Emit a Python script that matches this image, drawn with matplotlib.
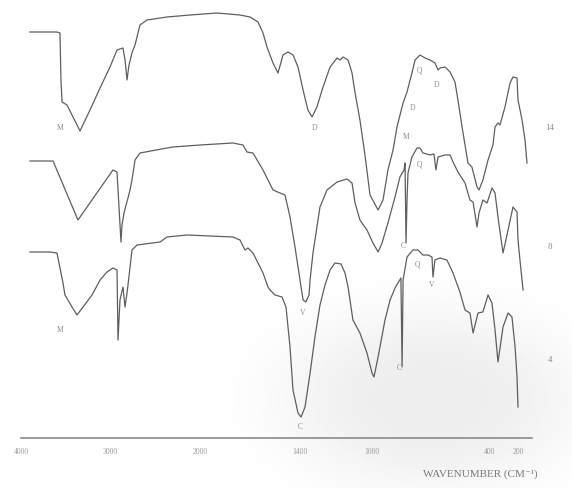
import numpy as np
import matplotlib.pyplot as plt

# IR spectra of three samples (14, 8, 4).
# y is an absorbance-like depth (0 = top of chart, grows downward).
wn_14 = [3899, 3596, 3562, 3551, 3539, 3483, 3427, 3337, 3225, 3112, 3000, 2922, 2856, 2833,
         2811, 2789, 2756, 2744, 2722, 2667, 2589, 2367, 2111, 1898, 1760, 1700, 1652, 1622,
         1598, 1562, 1532, 1502, 1472, 1442, 1412, 1383, 1356, 1333, 1306, 1272, 1233, 1194,
         1178, 1161, 1133, 1111, 1094, 1067, 1039, 1011, 969, 944, 919, 893, 873, 842, 822,
         797, 781, 756, 730, 705, 680, 664, 654, 629, 603, 578, 563, 542, 527, 512, 492, 466,
         456, 436, 410, 379, 364, 343, 329, 293, 257, 236, 207, 200, 171, 150, 136]
a_14 = [0.32, 0.32, 0.33, 0.80, 1.02, 1.05, 1.15, 1.31, 1.10, 0.88, 0.67, 0.50, 0.48, 0.60,
        0.80, 0.65, 0.53, 0.50, 0.45, 0.25, 0.20, 0.17, 0.15, 0.13, 0.15, 0.17, 0.22, 0.33,
        0.47, 0.63, 0.73, 0.55, 0.52, 0.55, 0.67, 0.90, 1.10, 1.17, 1.07, 0.87, 0.67, 0.58,
        0.60, 0.57, 0.60, 0.73, 0.93, 1.20, 1.55, 1.95, 2.10, 2.00, 1.70, 1.50, 1.27, 1.03,
        0.92, 0.73, 0.60, 0.55, 0.58, 0.60, 0.63, 0.70, 0.68, 0.67, 0.72, 0.82, 1.00, 1.27,
        1.45, 1.63, 1.67, 1.87, 1.90, 1.80, 1.60, 1.45, 1.27, 1.23, 1.25, 1.07, 0.83, 0.77,
        0.78, 1.00, 1.20, 1.40, 1.63]

wn_8 = [3899, 3640, 3360, 2967, 2922, 2878, 2867, 2844, 2822, 2800, 2778, 2756, 2722, 2667,
        2367, 2300, 2000, 1802, 1742, 1718, 1682, 1622, 1562, 1520, 1490, 1460, 1430, 1400,
        1383, 1367, 1350, 1344, 1328, 1289, 1250, 1194, 1139, 1111, 1094, 1067, 1028, 995,
        969, 949, 919, 883, 858, 837, 832, 827, 822, 817, 797, 771, 756, 741, 705, 685, 675,
        664, 629, 603, 588, 563, 527, 502, 486, 466, 456, 436, 415, 386, 364, 343, 307, 271,
        236, 207, 200, 186, 164]
a_8 = [1.61, 1.61, 2.20, 1.70, 1.72, 2.42, 2.25, 2.13, 2.05, 1.98, 1.90, 1.80, 1.60, 1.53,
       1.48, 1.47, 1.45, 1.43, 1.45, 1.52, 1.53, 1.70, 1.90, 1.93, 1.95, 2.17, 2.47, 2.80,
       3.00, 3.02, 2.95, 2.80, 2.53, 2.07, 1.90, 1.82, 1.79, 1.83, 2.03, 2.20, 2.30, 2.43,
       2.52, 2.43, 2.23, 1.97, 1.77, 1.70, 1.63, 2.43, 2.00, 1.73, 1.57, 1.48, 1.48, 1.53,
       1.55, 1.54, 1.70, 1.57, 1.55, 1.55, 1.62, 1.72, 1.83, 2.00, 2.02, 2.27, 2.13, 2.00,
       2.03, 1.88, 1.93, 2.17, 2.53, 2.30, 2.07, 2.12, 2.40, 2.60, 2.90]

wn_4 = [3899, 3674, 3596, 3528, 3506, 3427, 3371, 3303, 3202, 3112, 3034, 2967, 2922, 2911,
        2889, 2856, 2833, 2811, 2800, 2756, 2700, 2444, 2367, 2144, 1802, 1760, 1730, 1712,
        1682, 1622, 1592, 1580, 1550, 1508, 1484, 1460, 1442, 1412, 1394, 1372, 1344, 1317,
        1289, 1261, 1233, 1206, 1172, 1150, 1133, 1106, 1067, 1028, 1000, 990, 969, 934, 908,
        883, 868, 853, 847, 842, 822, 792, 766, 741, 715, 695, 690, 680, 654, 619, 588, 553,
        527, 502, 486, 461, 436, 410, 386, 364, 343, 307, 271, 243, 221, 207, 200]
a_4 = [2.52, 2.52, 2.53, 2.83, 2.95, 3.07, 3.15, 3.07, 2.95, 2.80, 2.72, 2.68, 2.70, 3.40,
       3.00, 2.87, 3.07, 2.93, 2.85, 2.50, 2.45, 2.42, 2.37, 2.35, 2.37, 2.40, 2.50, 2.48,
       2.53, 2.73, 2.87, 2.90, 2.95, 2.97, 3.07, 3.47, 3.90, 4.13, 4.17, 4.07, 3.73, 3.37,
       3.05, 2.85, 2.70, 2.63, 2.64, 2.73, 2.87, 3.20, 3.33, 3.53, 3.73, 3.77, 3.57, 3.20,
       3.00, 2.88, 2.83, 2.78, 3.67, 2.80, 2.57, 2.50, 2.50, 2.55, 2.55, 2.57, 2.77, 2.60,
       2.58, 2.60, 2.73, 2.92, 3.10, 3.13, 3.33, 3.13, 3.12, 2.95, 3.03, 3.30, 3.62, 3.27,
       3.13, 3.17, 3.47, 3.77, 4.07]

# band letters written next to the traces
band_text = ['M', 'D', 'Q', 'D', 'D', 'M', 'Q', 'V', 'C', 'M', 'Q', 'V', 'C', 'C']
band_wn = [3562, 1317, 761, 670, 792, 827, 761, 1383, 842, 3562, 771, 695, 1400, 863]
band_a = [1.28, 1.28, 0.70, 0.85, 1.08, 1.37, 1.65, 3.13, 2.46, 3.30, 2.65, 2.85, 4.27, 3.68]

sample_names = ['14', '8', '4']
sample_a = [1.28, 2.47, 3.60]

tick_wn = [4000, 3000, 2000, 1400, 1000, 400, 200]

# the old spectrometer chart paper is not linear in wavenumber
scale_wn = [100, 200, 400, 1000, 1400, 2000, 3000, 4000]
scale_pos = [0, 14, 42, 160, 232, 332, 422, 511]


def fwd(w):
    return np.interp(w, scale_wn, scale_pos)


def inv(p):
    return np.interp(p, scale_pos, scale_wn)


serif = ['Liberation Serif', 'DejaVu Serif']
ink = '#5e5e5e'
faint = '#8c8c8c'

fig = plt.figure(figsize=(5.72, 4.88), dpi=100)

# faint grey smudge of the scan in the lower right corner
bg = fig.add_axes([0, 0, 1, 1], zorder=-1)
gx, gy = np.meshgrid(np.linspace(0, 572, 286), np.linspace(0, 488, 244))
blob = np.exp(-(((gx - 430) / 150) ** 2 + ((gy - 400) / 90) ** 2) ** 1.5)
bg.imshow(1 - 0.07 * blob, cmap='gray', vmin=0, vmax=1, extent=(0, 572, 488, 0), aspect='auto')
bg.axis('off')

ax = fig.add_axes([21 / 572, 50 / 488, 511 / 572, 438 / 488])
ax.patch.set_alpha(0)

ax.set_xscale('function', functions=(fwd, inv))
ax.set_xlim(4000, 100)
ax.set_ylim(4.38, 0)

for wn, a in [(wn_14, a_14), (wn_8, a_8), (wn_4, a_4)]:
    ax.plot(wn, a, color=ink, lw=0.9, solid_joinstyle='round')

for t, w, a in zip(band_text, band_wn, band_a):
    ax.text(w, a, t, fontsize=5.5, color=faint, family=serif, ha='center', va='center')

for name, a in zip(sample_names, sample_a):
    ax.text(1.035, a, name, transform=ax.get_yaxis_transform(), fontsize=6.5,
            color=faint, family=serif, ha='center', va='center', clip_on=False)

for s in ['top', 'left', 'right']:
    ax.spines[s].set_visible(False)
ax.spines['bottom'].set_color('#8a8a8a')
ax.spines['bottom'].set_linewidth(1.2)
ax.set_yticks([])
ax.set_xticks(tick_wn)
ax.set_xticklabels([str(t) for t in tick_wn])
ax.xaxis.set_minor_locator(plt.NullLocator())
ax.tick_params(axis='x', length=0, pad=7, labelsize=5.5, labelcolor='#9a9a9a')
for lab in ax.get_xticklabels():
    lab.set_family(serif)

fig.text(480 / 572, 1 - 474 / 488, 'WAVENUMBER (CM\u207b\u00b9)', fontsize=8,
         color='#7a7a7a', family=serif, ha='center', va='center')

fig.savefig('out.png', dpi=100)
